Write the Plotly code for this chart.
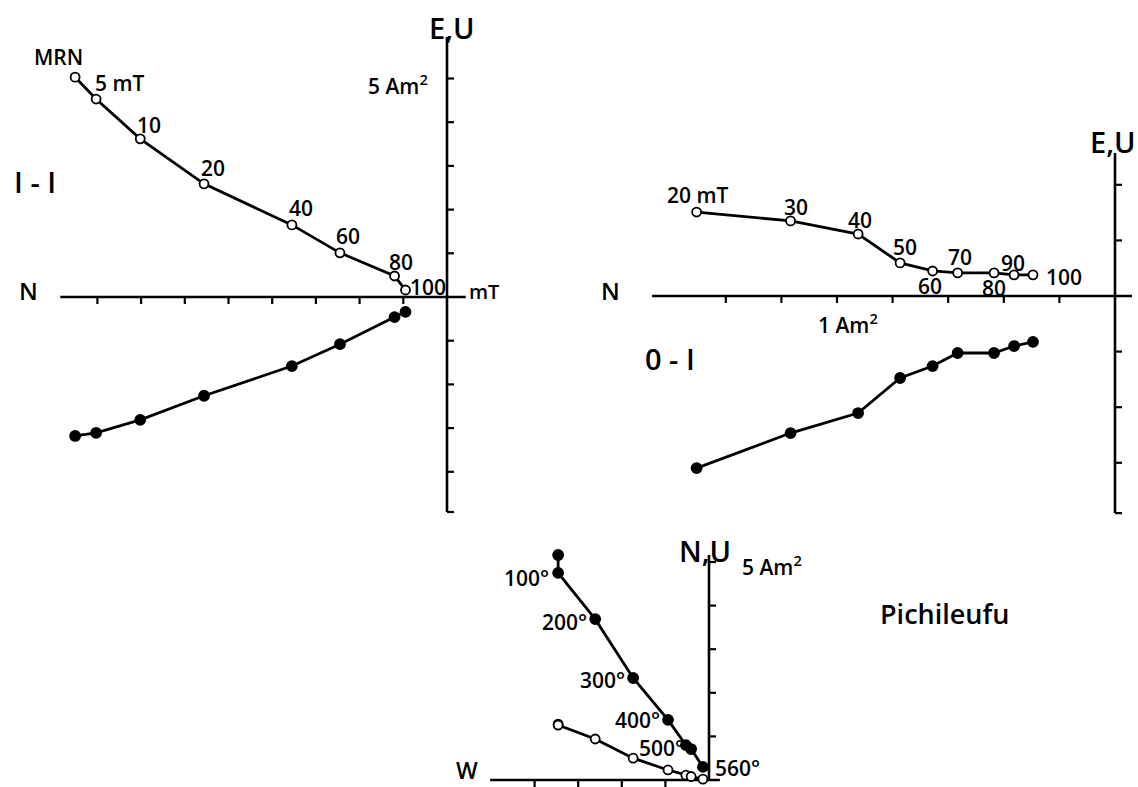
import plotly.graph_objects as go

W, H = 1138, 787
FONT = "Open Sans"
WEIGHT = 600
INK = "black"

# ---------------- data (Am^2) ----------------
# Sample I-I, alternating-field demagnetisation
i1_labels = ["MRN", "5 mT", "10", "20", "40", "60", "80", "100"]
i1_north = [-8.51, -8.03, -7.02, -5.56, -3.55, -2.45, -1.20, -0.95]
i1_open = [5.03, 4.53, 3.62, 2.59, 1.65, 1.01, 0.48, 0.16]
i1_filled = [-3.18, -3.11, -2.81, -2.26, -1.58, -1.08, -0.46, -0.34]

# Sample O-I, alternating-field demagnetisation
o1_labels = ["20 mT", "30", "40", "50", "60", "70", "80", "90", "100"]
o1_north = [-1.505, -1.167, -0.924, -0.773, -0.656, -0.566, -0.435, -0.363, -0.295]
o1_open = [0.302, 0.270, 0.223, 0.119, 0.090, 0.083, 0.083, 0.076, 0.076]
o1_filled = [-0.619, -0.493, -0.421, -0.295, -0.252, -0.205, -0.205, -0.180, -0.165]

# Pichileufu, thermal demagnetisation
pi_labels = ["", "100°", "200°", "300°", "400°", "500°", "", "560°"]
pi_west = [-3.46, -3.46, -2.61, -1.74, -0.94, -0.53, -0.41, -0.14]
pi_filled = [5.16, 4.75, 3.69, 2.34, 1.38, 0.80, 0.71, 0.30]
pi_open = [1.28, 1.26, 0.94, 0.50, 0.23, 0.11, 0.08, 0.02]

# ---------------- panel geometry: origin pixel and pixels per Am^2 ----------------
panels = {
    "": dict(ox=447, oy=297, s=43.7),
    "2": dict(ox=1115, oy=296, s=278.0),
    "3": dict(ox=709, oy=780, s=43.6),
}

# label offsets in pixels (dx right, dy up) for the step labels
i1_off = [(-17, 20), (23, 16), (9, 14), (9, 16), (9, 17), (8, 17), (6, 14), (23, 3)]
o1_off = [(1, 17), (5, 14), (2, 14), (5, 16), (-3, -15), (2, 16), (0, -15), (-1, 12), (31, -2)]
pi_off = [(0, 0), (-32, -5), (-31, -3), (-31, -2), (-31, 0), (-24, -3), (0, 0), (35, -1)]

fig = go.Figure()
shapes = []
annotations = []


def font(size):
    return dict(family=FONT, size=size, color=INK, weight=WEIGHT)


def series(xs, ys, key, filled):
    fig.add_trace(go.Scatter(
        x=xs, y=ys, xaxis="x" + key, yaxis="y" + key,
        mode="lines+markers", cliponaxis=False, showlegend=False, hoverinfo="skip",
        line=dict(color=INK, width=2.8),
        marker=dict(size=10 if filled else 9, symbol="circle",
                    color=INK if filled else "white",
                    line=dict(color=INK, width=1.8)),
    ))


def seg(key, x0, y0, x1, y1, w=2.6):
    shapes.append(dict(type="line", xref="x" + key, yref="y" + key,
                       x0=x0, y0=y0, x1=x1, y1=y1,
                       line=dict(color=INK, width=w), layer="below"))


def axes(key, xmin, xmax, ymin, ymax, xticks, yticks, tick_px=7):
    s = panels[key]["s"]
    t = tick_px / s
    seg(key, xmin, 0, xmax, 0)
    seg(key, 0, ymin, 0, ymax)
    for v in xticks:
        seg(key, v, 0, v, -t, 2.2)
    for v in yticks:
        seg(key, 0, v, t, v, 2.2)


def step_labels(key, xs, ys, labels, offs, size=21):
    for x, y, lab, (dx, dy) in zip(xs, ys, labels, offs):
        if not lab:
            continue
        annotations.append(dict(x=x, y=y, xref="x" + key, yref="y" + key,
                                text=lab, showarrow=False, xshift=dx, yshift=dy,
                                font=font(size)))


def text_px(px, py, txt, size):
    annotations.append(dict(x=px / W, y=1 - py / H, xref="paper", yref="paper",
                            text=txt, showarrow=False, xanchor="center", yanchor="middle",
                            font=font(size)))


# ---- I-I ----
axes("", -8.85, 0.43, -4.92, 5.95,
     xticks=[-8, -7, -6, -5, -4, -3, -2, -1],
     yticks=[1, 2, 3, 4, 5, -1, -2, -3, -4, -4.92])
series(i1_north, i1_filled, "", True)
series(i1_north, i1_open, "", False)
step_labels("", i1_north, i1_open, i1_labels, i1_off)
text_px(452, 27, "E,U", 29)
text_px(398, 84, "5 Am<sup>2</sup>", 21)
text_px(28, 291, "N", 24)
text_px(35, 181, "I - I", 29)
text_px(484, 292, "mT", 20)

# ---- O-I ----
axes("2", -1.665, 0.061, -0.781, 0.514,
     xticks=[-0.2, -0.4, -0.6, -0.8, -1.0, -1.2, -1.4],
     yticks=[0.2, 0.4, -0.2, -0.4, -0.6, -0.781])
series(o1_north, o1_filled, "2", True)
series(o1_north, o1_open, "2", False)
step_labels("2", o1_north, o1_open, o1_labels, o1_off)
text_px(1113, 141, "E,U", 29)
text_px(610, 290, "N", 24)
text_px(848, 323, "1 Am<sup>2</sup>", 21)
text_px(670, 358, "0 - I", 29)

# ---- Pichileufu ----
axes("3", -5.02, 0.25, 0, 5.16,
     xticks=[-1, -2, -3, -4],
     yticks=[1, 2, 3, 4, 5])
series(pi_west, pi_open, "3", False)
series(pi_west, pi_filled, "3", True)
step_labels("3", pi_west, pi_filled, pi_labels, pi_off)
text_px(705, 550, "N,U", 29)
text_px(772, 565, "5 Am<sup>2</sup>", 21)
text_px(467, 770, "W", 23)
text_px(944, 613, "Pichileufu", 27)

layout_axes = {}
for key, g in panels.items():
    ox, oy, s = g["ox"], g["oy"], g["s"]
    layout_axes["xaxis" + key] = dict(domain=[0, 1], range=[-ox / s, (W - ox) / s],
                                      visible=False, fixedrange=True,
                                      anchor="y" + key)
    layout_axes["yaxis" + key] = dict(domain=[0, 1], range=[-(H - oy) / s, oy / s],
                                      visible=False, fixedrange=True,
                                      anchor="x" + key)

fig.update_layout(
    width=W, height=H, autosize=False,
    margin=dict(l=0, r=0, t=0, b=0, pad=0),
    paper_bgcolor="white", plot_bgcolor="rgba(0,0,0,0)",
    shapes=shapes, annotations=annotations,
    **layout_axes,
)

fig.write_html("out.html")
